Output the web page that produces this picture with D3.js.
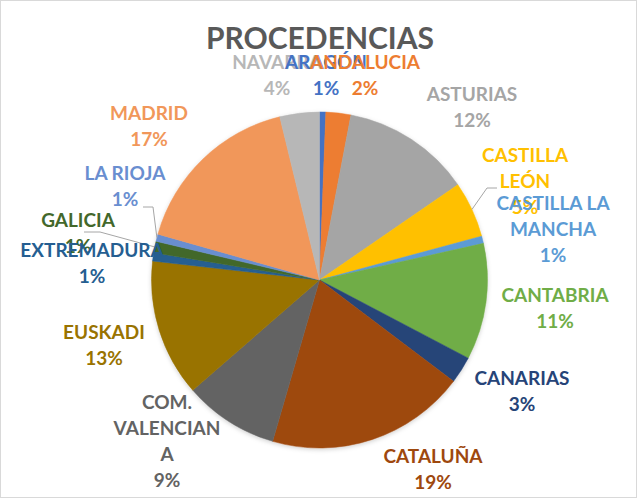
<!DOCTYPE html>
<html>
<head>
<meta charset="utf-8">
<script src="https://cdn.jsdelivr.net/npm/d3@7"></script>
<style>
  html, body { margin: 0; padding: 0; background: #fff; }
  svg { display: block; }
</style>
</head>
<body>
<svg id="chart" width="640" height="499"></svg>
<script>
// data (share of visitors, %)
var regions = ["ARAGÓN", "ANDALUCIA", "ASTURIAS", "CASTILLA LEÓN", "CASTILLA LA MANCHA",
  "CANTABRIA", "CANARIAS", "CATALUÑA", "COM. VALENCIANA", "EUSKADI",
  "EXTREMADURA", "GALICIA", "LA RIOJA", "MADRID", "NAVARRA"];
var shares = [0.6, 2.4, 12.4, 5.4, 0.7, 11.2, 2.6, 19.2, 9.1, 13.2, 0.8, 1.1, 0.7, 16.8, 3.8];
var colors = ["#4472C4", "#ED7D31", "#A5A5A5", "#FFC000", "#5B9BD5", "#70AD47", "#264478",
  "#9E480E", "#636363", "#997300", "#255E91", "#43682B", "#698ED0", "#F1975A", "#B7B7B7"];
var title = "PROCEDENCIAS";

// label layout: wrapped lines, centre x, first baseline
var labelLines = [["ARAGÓN"], ["ANDALUCIA"], ["ASTURIAS"], ["CASTILLA", "LEÓN"], ["CASTILLA LA", "MANCHA"],
  ["CANTABRIA"], ["CANARIAS"], ["CATALUÑA"], ["COM.", "VALENCIAN", "A"], ["EUSKADI"],
  ["EXTREMADURA"], ["GALICIA"], ["LA RIOJA"], ["MADRID"], ["NAVARRA"]];
var labelAt = [[326, 69], [365, 69], [472, 101], [525, 162], [553, 210],
  [555, 302], [522, 385], [433, 463], [167, 409], [104, 339],
  [92, 257], [78, 227], [125, 180], [149, 120], [277, 69]];
// leader lines: bend point and end point (slice end comes from the arc)
var leaders = {3: [[487, 188], [497, 188]], 11: [[100, 232], [84, 232]], 12: [[153, 207], [143, 207]]};

var svg = d3.select("#chart"),
    cx = 319.5, cy = 280, r = 168, lineH = 26,
    fontStack = 'Lato, "Open Sans", sans-serif';

svg.append("rect")
  .attr("x", 0.5).attr("y", 0.5).attr("width", 636).attr("height", 497)
  .attr("fill", "#fff").attr("stroke", "#D9D9D9");

var defs = svg.append("defs");
var f = defs.append("filter").attr("id", "shadow")
  .attr("x", "-10%").attr("y", "-10%").attr("width", "120%").attr("height", "120%");
f.append("feDropShadow").attr("dx", 0).attr("dy", 1.5).attr("stdDeviation", 2)
  .attr("flood-color", "#000").attr("flood-opacity", 0.18);

svg.append("text")
  .attr("x", 320).attr("y", 49)
  .attr("text-anchor", "middle")
  .style("font-family", fontStack).style("font-weight", 700).style("font-size", "30px")
  .attr("fill", "#595959")
  .text(title);

var total = d3.sum(shares);
var arcs = d3.pie().sort(null).value(function(d) { return d; })(shares);
var arc = d3.arc().innerRadius(0).outerRadius(r);

var g = svg.append("g").attr("transform", "translate(" + [cx, cy] + ")");
g.append("g").attr("filter", "url(#shadow)")
  .selectAll("path")
  .data(arcs)
  .enter().append("path")
    .attr("d", arc)
    .attr("fill", function(d, i) { return colors[i]; })
    .attr("stroke", function(d, i) { return colors[i]; })
    .attr("stroke-width", 0.5);

// leader lines
Object.keys(leaders).forEach(function(k) {
  var d = arcs[+k], a = (d.startAngle + d.endAngle) / 2,
      p0 = [cx + r * Math.sin(a), cy - r * Math.cos(a)];
  svg.append("path")
    .attr("d", d3.line()([p0].concat(leaders[k])))
    .attr("fill", "none").attr("stroke", "#A6A6A6").attr("stroke-width", 1);
});

// labels
var order = [14, 0, 1, 2, 3, 4, 5, 6, 7, 8, 9, 11, 10, 12, 13];
order.forEach(function(i) {
  var lines = labelLines[i].concat([Math.round(shares[i] / total * 100) + "%"]);
  var t = svg.append("text")
    .attr("text-anchor", "middle")
    .style("font-family", fontStack).style("font-weight", 700).style("font-size", "19px")
    .attr("fill", colors[i]);
  lines.forEach(function(s, j) {
    t.append("tspan").attr("x", labelAt[i][0]).attr("y", labelAt[i][1] + j * lineH).text(s);
  });
});
</script>
</body>
</html>
